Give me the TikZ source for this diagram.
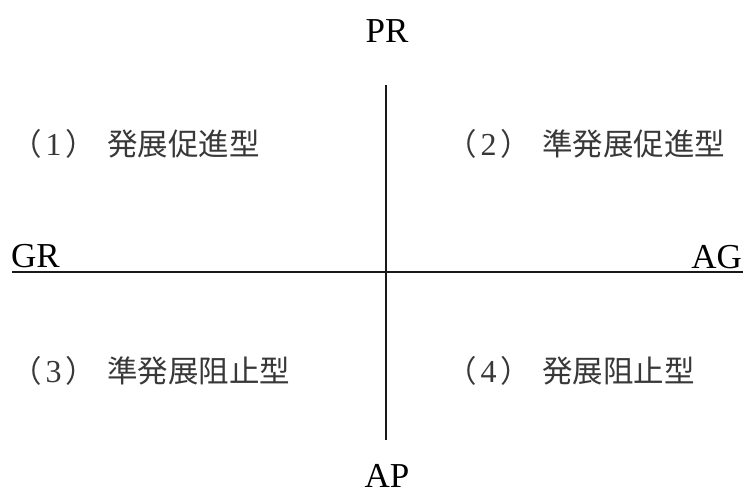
\documentclass[tikz,border=0pt]{standalone}
\usepackage{fontspec}
\setmainfont{Liberation Serif}
\newfontfamily\jp{Noto Sans CJK JP}
\tikzset{
  axislbl/.style={inner sep=0pt, font=\fontsize{35}{40}\selectfont, text=black},
  quad/.style={inner sep=0pt, anchor=west, text=black!78, font=\fontsize{30.5}{36}\selectfont},
  axis/.style={line width=1.8pt, draw=black!90}
}
\newcommand{\qlabel}[2]{\makebox[96pt][l]{{\jp （}\makebox[24pt][c]{\rmfamily\fontsize{32}{36}\selectfont #1}{\jp ）}}{\jp #2}}
\begin{document}
\begin{tikzpicture}[x=1pt,y=-1pt]
  \useasboundingbox (0,0) rectangle (743,495);
  \coordinate (top) at (386,85);
  \coordinate (bot) at (386,440);
  \coordinate (left) at (12,272);
  \coordinate (right) at (743,272);
  \draw[axis] (top) -- (bot);
  \draw[axis] (left) -- (right);
  \node[axislbl, anchor=base] (pr) at (387,42) {PR};
  \node[axislbl, anchor=base] (ap) at (387,487) {AP};
  \node[axislbl, anchor=base west] (gr) at (11,267) {GR};
  \node[axislbl, anchor=base east] (ag) at (742,268) {AG};
  \node[quad] (q1) at (11,143.5) {\qlabel{1}{発展促進型}};
  \node[quad] (q2) at (446,143.5) {\qlabel{2}{準発展促進型}};
  \node[quad] (q3) at (11,371) {\qlabel{3}{準発展阻止型}};
  \node[quad] (q4) at (446,371) {\qlabel{4}{発展阻止型}};
\end{tikzpicture}
\end{document}
